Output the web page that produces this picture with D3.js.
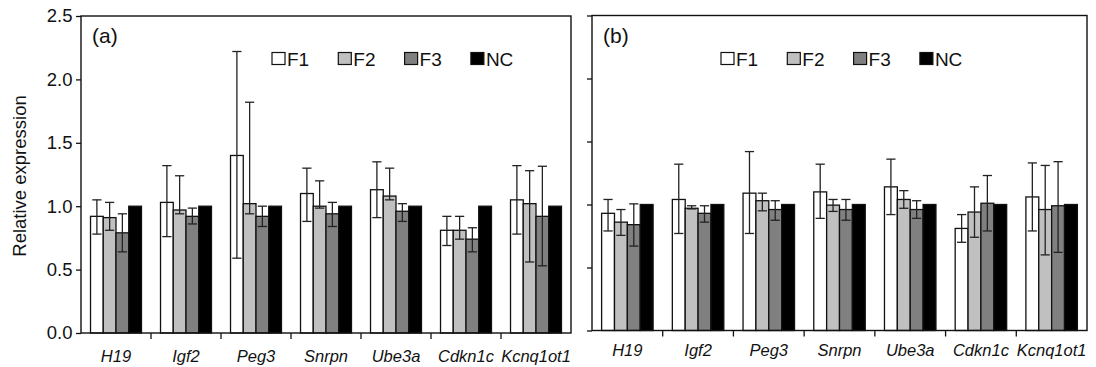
<!DOCTYPE html>
<html>
<head>
<meta charset="utf-8">
<script src="https://cdn.jsdelivr.net/npm/d3@7"></script>
<style>
  body { margin: 0; background: #fff; }
  svg { display: block; font-family: "Liberation Sans", Arial, sans-serif; }
</style>
</head>
<body>
<svg id="chart" width="1096" height="367"></svg>
<script>
const genes = ["H19", "Igf2", "Peg3", "Snrpn", "Ube3a", "Cdkn1c", "Kcnq1ot1"];
const seriesNames = ["F1", "F2", "F3", "NC"];
const yTicks = [0, 0.5, 1.0, 1.5, 2.0, 2.5];

// Panel (a)
const aF1 = [0.92, 1.03, 1.40, 1.10, 1.13, 0.81, 1.05];
const aF1Hi = [1.05, 1.32, 2.22, 1.30, 1.35, 0.92, 1.32];
const aF1Lo = [0.78, 0.76, 0.59, 0.88, 0.91, 0.69, 0.78];
const aF2 = [0.91, 0.97, 1.02, 1.00, 1.08, 0.81, 1.02];
const aF2Hi = [1.03, 1.24, 1.82, 1.20, 1.30, 0.92, 1.28];
const aF2Lo = [0.81, 0.94, 0.94, 0.985, 1.05, 0.74, 0.56];
const aF3 = [0.79, 0.92, 0.92, 0.94, 0.96, 0.74, 0.92];
const aF3Hi = [0.94, 0.985, 1.00, 1.03, 1.02, 0.83, 1.315];
const aF3Lo = [0.64, 0.86, 0.84, 0.84, 0.88, 0.64, 0.53];
const aNC = [1, 1, 1, 1, 1, 1, 1];

// Panel (b)
const bF1 = [0.93, 1.04, 1.09, 1.10, 1.14, 0.81, 1.06];
const bF1Hi = [1.04, 1.32, 1.42, 1.32, 1.36, 0.92, 1.33];
const bF1Lo = [0.79, 0.77, 0.77, 0.89, 0.92, 0.70, 0.79];
const bF2 = [0.86, 0.97, 1.03, 0.995, 1.04, 0.94, 0.96];
const bF2Hi = [0.96, 0.99, 1.09, 1.04, 1.11, 1.14, 1.31];
const bF2Lo = [0.755, 0.965, 0.95, 0.945, 0.97, 0.74, 0.60];
const bF3 = [0.84, 0.93, 0.96, 0.96, 0.96, 1.01, 0.99];
const bF3Hi = [1.005, 0.99, 1.03, 1.04, 1.03, 1.23, 1.34];
const bF3Lo = [0.67, 0.86, 0.875, 0.875, 0.89, 0.79, 0.62];
const bNC = [1, 1, 1, 1, 1, 1, 1];

const fills = { F1: "#ffffff", F2: "#c0c0c0", F3: "#808080", NC: "#000000" };

const svg = d3.select("#chart");

function buildRows(vals, his, los) {
  const rows = [];
  genes.forEach((g, i) => {
    seriesNames.forEach((s, k) => {
      rows.push({ gene: g, series: s, value: vals[k][i],
                  hi: his[k] ? his[k][i] : null, lo: los[k] ? los[k][i] : null });
    });
  });
  return rows;
}

function drawPanel(cfg) {
  const { left, right, top, bottom, rows, label, showTickLabels, legendX, labelY } = cfg;
  const g = svg.append("g");
  const x = d3.scaleBand().domain(genes).range([left, right]).padding(0);
  const bw = x.bandwidth();
  const xs = d3.scaleBand().domain(seriesNames).range([bw * 0.136, bw * 0.864]).padding(0);
  const y = d3.scaleLinear().domain([0, 2.5]).range([bottom, top]);

  // bars
  g.selectAll("rect.bar").data(rows).enter().append("rect")
    .attr("class", "bar")
    .attr("x", d => x(d.gene) + xs(d.series))
    .attr("y", d => y(d.value))
    .attr("width", xs.bandwidth())
    .attr("height", d => y(0) - y(d.value))
    .attr("fill", d => fills[d.series])
    .attr("stroke", "#111")
    .attr("stroke-width", 1.3);

  // error bars
  const eb = rows.filter(d => d.hi !== null);
  const cap = 4.6;
  const ebg = g.selectAll("g.eb").data(eb).enter().append("g").attr("class", "eb")
    .attr("stroke", "#222").attr("stroke-width", 1.3);
  ebg.append("line")
    .attr("x1", d => x(d.gene) + xs(d.series) + xs.bandwidth() / 2)
    .attr("x2", d => x(d.gene) + xs(d.series) + xs.bandwidth() / 2)
    .attr("y1", d => y(d.lo)).attr("y2", d => y(d.hi));
  ebg.append("line")
    .attr("x1", d => x(d.gene) + xs(d.series) + xs.bandwidth() / 2 - cap)
    .attr("x2", d => x(d.gene) + xs(d.series) + xs.bandwidth() / 2 + cap)
    .attr("y1", d => y(d.hi)).attr("y2", d => y(d.hi));
  ebg.append("line")
    .attr("x1", d => x(d.gene) + xs(d.series) + xs.bandwidth() / 2 - cap)
    .attr("x2", d => x(d.gene) + xs(d.series) + xs.bandwidth() / 2 + cap)
    .attr("y1", d => y(d.lo)).attr("y2", d => y(d.lo));

  // frame
  g.append("rect").attr("x", left).attr("y", top)
    .attr("width", right - left).attr("height", bottom - top)
    .attr("fill", "none").attr("stroke", "#111").attr("stroke-width", 1.4);

  // y axis
  const yAxis = d3.axisLeft(y).tickValues(yTicks).tickSize(5).tickPadding(3.5)
    .tickFormat(showTickLabels ? d3.format(".1f") : () => "");
  const ya = g.append("g").attr("transform", `translate(${left},0)`).call(yAxis);
  ya.select(".domain").remove();
  ya.selectAll("line").attr("stroke", "#111").attr("stroke-width", 1.3);
  ya.selectAll("text").attr("font-size", 18.5).attr("fill", "#111")
    .attr("font-family", "'Liberation Sans', Arial, sans-serif");

  // x axis ticks at category boundaries
  const bounds = genes.slice(1).map(d => x(d));
  g.selectAll("line.xt").data(bounds).enter().append("line")
    .attr("x1", d => d).attr("x2", d => d)
    .attr("y1", bottom).attr("y2", bottom + 6)
    .attr("stroke", "#111").attr("stroke-width", 1.3);
  g.selectAll("text.xl").data(genes).enter().append("text")
    .attr("x", d => x(d) + bw / 2)
    .attr("y", labelY)
    .attr("text-anchor", "middle")
    .attr("font-size", 16.5).attr("font-style", "italic").attr("fill", "#111")
    .text(d => d);

  // panel label
  g.append("text").attr("x", left + 11).attr("y", top + 27)
    .attr("font-size", 21).attr("fill", "#111").text(label);

  // legend
  const lg = g.append("g");
  seriesNames.forEach((s, k) => {
    const lx = legendX + k * 66.3;
    lg.append("rect").attr("x", lx).attr("y", 52.5).attr("width", 13).attr("height", 12)
      .attr("fill", fills[s]).attr("stroke", "#111").attr("stroke-width", 1.2);
    lg.append("text").attr("x", lx + 15).attr("y", 65.5).attr("font-size", 19)
      .attr("fill", "#111").text(s);
  });
}

drawPanel({
  left: 81, right: 571, top: 16, bottom: 333,
  rows: buildRows([aF1, aF2, aF3, aNC], [aF1Hi, aF2Hi, aF3Hi, null], [aF1Lo, aF2Lo, aF3Lo, null]),
  label: "(a)", showTickLabels: true, legendX: 272, labelY: 361.5
});
drawPanel({
  left: 592, right: 1087, top: 15.5, bottom: 330.5,
  rows: buildRows([bF1, bF2, bF3, bNC], [bF1Hi, bF2Hi, bF3Hi, null], [bF1Lo, bF2Lo, bF3Lo, null]),
  label: "(b)", showTickLabels: false, legendX: 721, labelY: 355.5
});

// y axis title
svg.append("text")
  .attr("transform", "translate(26,176) rotate(-90)")
  .attr("text-anchor", "middle")
  .attr("font-size", 18.5).attr("fill", "#111")
  .text("Relative expression");
</script>
</body>
</html>
